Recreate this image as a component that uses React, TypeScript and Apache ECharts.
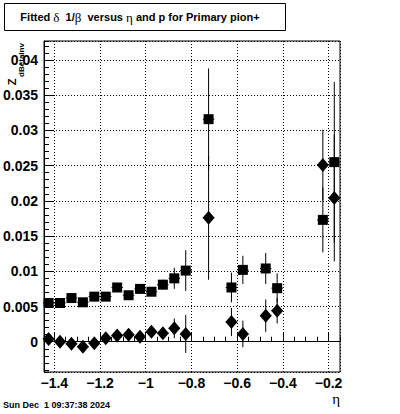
import React, { useEffect, useRef } from "react";
import * as echarts from "echarts";

// Data
const etaCenters = [-1.425, -1.375, -1.325, -1.275, -1.225, -1.175, -1.125, -1.075, -1.025, -0.975, -0.925, -0.875, -0.825, -0.725, -0.625, -0.575, -0.475, -0.425, -0.225, -0.175];
const squareValues = [0.0055, 0.0055, 0.0062, 0.0056, 0.0064, 0.0064, 0.0077, 0.0066, 0.0075, 0.0071, 0.0081, 0.0090, 0.0101, 0.0316, 0.0077, 0.0102, 0.0104, 0.0076, 0.0173, 0.0255];
const squareErrors = [0.0004, 0.0004, 0.0004, 0.0004, 0.0004, 0.0004, 0.0006, 0.0005, 0.0007, 0.0006, 0.0007, 0.0015, 0.0029, 0.0072, 0.0021, 0.0020, 0.0022, 0.0021, 0.0046, 0.0114];
const diamondValues = [0.0004, 0.0000, -0.0003, -0.0007, -0.0002, 0.0005, 0.0009, 0.0010, 0.0007, 0.0014, 0.0012, 0.0019, 0.0011, 0.0176, 0.0028, 0.0011, 0.0037, 0.0044, 0.0251, 0.0204];
const diamondErrors = [0.0004, 0.0004, 0.0004, 0.0004, 0.0004, 0.0004, 0.0004, 0.0004, 0.0004, 0.0006, 0.0008, 0.0014, 0.0027, 0.0088, 0.0020, 0.0019, 0.0023, 0.0018, 0.0050, 0.0090];
const etaHalfWidth = 0.025;

const xMin = -1.445;
const xMax = -0.15;
const yMin = -0.0043;
const yMax = 0.0427;

const titleText = "Fitted {g|δ}  1/{g|β}  versus {g|η} and p for Primary pion+";
const dateText = "Sun Dec  1 09:37:38 2024";

const SANS = "'Liberation Sans', Arial, sans-serif";
const SERIF = "'Liberation Serif', 'DejaVu Serif', serif";

const fmt = (v: number) => String(parseFloat(v.toFixed(4))).replace("-", "\u2212");

export default function App() {
  const ref = useRef<HTMLDivElement>(null);
  useEffect(() => {
    if (!ref.current) return;
    const chart = echarts.init(ref.current, null, { renderer: "svg" });

    const sqData = etaCenters.map((x, i) => [x, squareValues[i], squareErrors[i]]);
    const diData = etaCenters.map((x, i) => [x, diamondValues[i], diamondErrors[i]]);

    const errRender = (params: any, api: any) => {
      const x = api.value(0);
      const y = api.value(1);
      const e = api.value(2);
      const t = api.coord([x, y + e]);
      const b = api.coord([x, y - e]);
      const l = api.coord([x - etaHalfWidth, y]);
      const r = api.coord([x + etaHalfWidth, y]);
      return {
        type: "group",
        children: [
          { type: "line", shape: { x1: t[0], y1: t[1], x2: b[0], y2: b[1] }, style: { stroke: "#000", lineWidth: 1 } },
          { type: "line", shape: { x1: l[0], y1: l[1], x2: r[0], y2: r[1] }, style: { stroke: "#000", lineWidth: 1 } },
        ],
      };
    };

    const option: any = {
      animation: false,
      backgroundColor: "#fff",
      grid: { left: 41, top: 41, right: 60, bottom: 42, show: true, borderColor: "#000", borderWidth: 1, backgroundColor: "transparent" },
      xAxis: [
        {
          type: "value",
          min: xMin,
          max: xMax,
          splitNumber: 6,
          position: "bottom",
          axisLine: { show: true, lineStyle: { color: "#000", width: 1 } },
          axisTick: { show: true, inside: true, length: 9, lineStyle: { color: "#000", width: 1 } },
          axisLabel: {
            show: true,
            showMinLabel: false,
            showMaxLabel: false,
            margin: 4,
            color: "#000",
            fontFamily: SANS,
            fontWeight: "bold",
            fontSize: 14,
            formatter: fmt,
          },
          splitLine: { show: true, lineStyle: { color: "#000", width: 1, type: [1, 2] } },
        },
        {
          type: "value",
          min: xMin,
          max: xMax,
          splitNumber: 26,
          position: "bottom",
          axisLine: { show: false },
          axisTick: { show: true, inside: true, length: 5, lineStyle: { color: "#000", width: 1 } },
          axisLabel: { show: false },
          splitLine: { show: false },
        },
      ],
      yAxis: [
        {
          type: "value",
          min: yMin,
          max: yMax,
          splitNumber: 9,
          position: "left",
          axisLine: { show: true, lineStyle: { color: "#000", width: 1 } },
          axisTick: { show: true, inside: true, length: 9, lineStyle: { color: "#000", width: 1 } },
          axisLabel: {
            show: true,
            showMinLabel: false,
            showMaxLabel: false,
            margin: 6,
            color: "#000",
            fontFamily: SANS,
            fontWeight: "bold",
            fontSize: 14,
            formatter: fmt,
          },
          splitLine: { show: true, lineStyle: { color: "#000", width: 1, type: [1, 2] } },
        },
        {
          type: "value",
          min: yMin,
          max: yMax,
          splitNumber: 47,
          position: "left",
          axisLine: { show: false },
          axisTick: { show: true, inside: true, length: 5, lineStyle: { color: "#000", width: 1 } },
          axisLabel: { show: false },
          splitLine: { show: false },
        },
      ],
      series: [
        {
          type: "custom",
          name: "squareErr",
          xAxisIndex: 0,
          yAxisIndex: 0,
          encode: { x: 0, y: 1 },
          data: sqData,
          renderItem: errRender,
          silent: true,
          z: 2,
        },
        {
          type: "custom",
          name: "diamondErr",
          xAxisIndex: 0,
          yAxisIndex: 0,
          encode: { x: 0, y: 1 },
          data: diData,
          renderItem: errRender,
          silent: true,
          z: 2,
        },
        {
          type: "scatter",
          name: "squares",
          xAxisIndex: 0,
          yAxisIndex: 0,
          data: sqData.map((d) => [d[0], d[1]]),
          symbol: "rect",
          symbolSize: 10,
          itemStyle: { color: "#000", opacity: 1 },
          z: 3,
        },
        {
          type: "scatter",
          name: "diamonds",
          xAxisIndex: 0,
          yAxisIndex: 0,
          data: diData.map((d) => [d[0], d[1]]),
          symbol: "diamond",
          symbolSize: [12, 14],
          itemStyle: { color: "#000", opacity: 1 },
          z: 3,
        },
      ],
      graphic: [
        {
          type: "rect",
          shape: { x: 4.5, y: 3.5, width: 281, height: 27 },
          style: { fill: "#fff", stroke: "#000", lineWidth: 1 },
          z: 10,
        },
        {
          type: "text",
          x: 140,
          y: 17,
          z: 11,
          style: {
            text: titleText,
            align: "center",
            verticalAlign: "middle",
            fill: "#000",
            font: `bold 11px ${SANS}`,
            rich: {
              g: { fontFamily: SERIF, fontWeight: "normal", fontSize: 13, fill: "#000" },
            },
          },
        },
        {
          type: "text",
          x: 12,
          y: 82,
          rotation: Math.PI / 2,
          z: 11,
          style: { text: "Z", align: "center", verticalAlign: "middle", fill: "#000", font: `bold 11px ${SANS}` },
        },
        {
          type: "text",
          x: 21,
          y: 60,
          rotation: Math.PI / 2,
          z: 11,
          style: { text: "dBetaInv", align: "center", verticalAlign: "middle", fill: "#000", font: `bold 8px ${SANS}` },
        },
        {
          type: "text",
          x: 3,
          y: 405,
          z: 11,
          style: { text: dateText, align: "left", verticalAlign: "middle", fill: "#000", font: `bold 9px ${SANS}` },
        },
        {
          type: "text",
          x: 340,
          y: 399,
          z: 11,
          style: { text: "η", align: "right", verticalAlign: "middle", fill: "#000", font: `15px ${SERIF}` },
        },
      ],
    };
    chart.setOption(option);
    return () => chart.dispose();
  }, []);
  return <div ref={ref} style={{ position: "absolute", left: 0, top: 0, width: 400, height: 414 }} />;
}
